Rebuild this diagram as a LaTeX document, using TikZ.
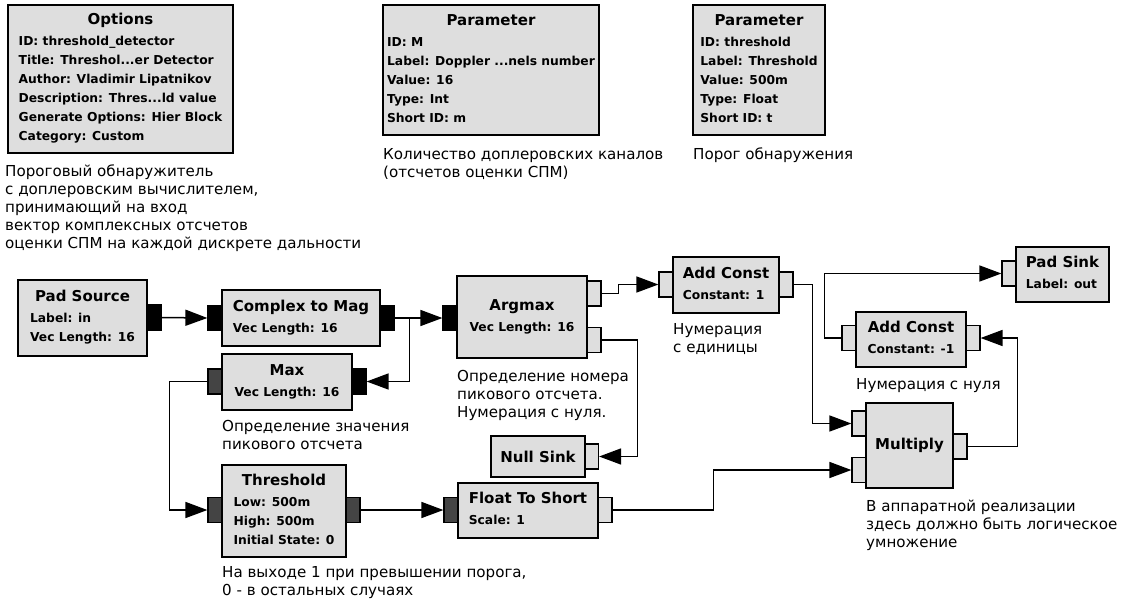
\documentclass[tikz,border=0pt]{standalone}
\usepackage{fontspec}
\setmainfont{DejaVu Sans}
\usetikzlibrary{arrows.meta}
\definecolor{blkfill}{HTML}{DEDEDE}
\definecolor{portdark}{HTML}{444444}
\tikzset{
 blk/.style={draw, line width=1.6pt, fill=blkfill, inner sep=0pt, font=\fontsize{12.3}{19}\selectfont\bfseries},
 pblk/.style={draw, line width=1.2pt, inner sep=0pt, minimum width=14pt, minimum height=25pt},
 pvec/.style={pblk, fill=black},
 pflt/.style={pblk, fill=portdark},
 pint/.style={pblk, fill=blkfill},
 conn/.style={line width=1.5pt, -{Triangle[length=22pt,width=16pt]}},
 cmt/.style={anchor=north west, inner sep=0pt, align=left, font=\fontsize{15.1}{17.8}\selectfont},
}
\newcommand{\bk}[2]{\begin{tabular}{@{}l@{}}\multicolumn{1}{@{}c@{}}{\fontsize{15}{19}\selectfont #1}\\[2pt] #2\end{tabular}}
\newcommand{\bko}[1]{{\fontsize{15}{19}\selectfont #1}}
\begin{document}
\begin{tikzpicture}[x=1pt,y=-1pt]
\useasboundingbox (0,0) rectangle (1122,600);
\fill[white] (0,0) rectangle (1122,600);

% parameter / option blocks
\node[blk, minimum width=225pt, minimum height=148pt] (opt) at (120.5,79) {\bk{Options}{ID: threshold\_detector\\Title: Threshol...er Detector\\Author: Vladimir Lipatnikov\\Description: Thres...ld value\\Generate Options: Hier Block\\Category: Custom}};
\node[blk, minimum width=216pt, minimum height=130pt] (par1) at (491,70) {\bk{Parameter}{ID: M\\Label: Doppler ...nels number\\Value: 16\\Type: Int\\Short ID: m}};
\node[blk, minimum width=132pt, minimum height=130pt] (par2) at (759,70) {\bk{Parameter}{ID: threshold\\Label: Threshold\\Value: 500m\\Type: Float\\Short ID: t}};

% ports
\node[pvec] (ps-o) at (154,317.5) {};
\node[pvec] (ctm-i) at (215,318) {};
\node[pvec] (ctm-o) at (387,318) {};
\node[pvec] (max-i) at (359,381.5) {};
\node[pflt] (max-o) at (215,381.5) {};
\node[pflt] (thr-i) at (215,510) {};
\node[pflt] (thr-o) at (353,510) {};
\node[pvec] (arg-i) at (450,318) {};
\node[pint] (arg-o0) at (594,293.5) {};
\node[pint] (arg-o1) at (594,340) {};
\node[pint] (ac1-i) at (666,284.5) {};
\node[pint] (ac1-o) at (786,284.5) {};
\node[pint] (null-i) at (591.5,456.5) {};
\node[pflt] (fts-i) at (451,510) {};
\node[pint] (fts-o) at (605,510) {};
\node[pint] (psk-i) at (1009,273.5) {};
\node[pint] (ac2-o) at (849,338) {};
\node[pint] (ac2-i) at (973,338) {};
\node[pint] (mul-i0) at (859,423.5) {};
\node[pint] (mul-i1) at (859,470) {};
\node[pint] (mul-o) at (960,446.5) {};

% flow blocks
\node[blk, minimum width=129pt, minimum height=76pt] (ps) at (82.5,318) {\bk{Pad Source}{Label: in\\Vec Length: 16}};
\node[blk, minimum width=158pt, minimum height=56pt] (ctm) at (301,318) {\bk{Complex to Mag}{Vec Length: 16}};
\node[blk, minimum width=130pt, minimum height=56pt] (max) at (287,382) {\bk{Max}{Vec Length: 16}};
\node[blk, minimum width=124pt, minimum height=92pt] (thr) at (284,511) {\bk{Threshold}{Low: 500m\\High: 500m\\Initial State: 0}};
\node[blk, minimum width=130pt, minimum height=82pt] (arg) at (522,317) {\bk{Argmax}{Vec Length: 16}};
\node[blk, minimum width=106pt, minimum height=56pt] (ac1) at (726,285) {\bk{Add Const}{Constant: 1}};
\node[blk, minimum width=94pt, minimum height=41pt] (null) at (538,456.5) {\bko{Null Sink}};
\node[blk, minimum width=140pt, minimum height=55pt] (fts) at (528,510.5) {\bk{Float To Short}{Scale: 1}};
\node[blk, minimum width=93pt, minimum height=55pt] (psk) at (1062.5,274.5) {\bk{Pad Sink}{Label: out}};
\node[blk, minimum width=110pt, minimum height=55pt] (ac2) at (911,339.5) {\bk{Add Const}{Constant: -1}};
\node[blk, minimum width=87pt, minimum height=85pt] (mul) at (909.5,445.5) {\bko{Multiply}};

% connections
\draw[conn] (ps-o.east) -- (ctm-i.west);
\draw[conn] (ctm-o.east) -- (arg-i.west);
\draw[conn] (ctm-o.east) -- ++(15,0) |- (max-i.east);
\draw[conn] (max-o.west) -- ++(-38,0) |- (thr-i.west);
\draw[conn] (thr-o.east) -- (fts-i.west);
\draw[conn] (arg-o0.east) -- ++(17,0) |- (ac1-i.west);
\draw[conn] (arg-o1.east) -- ++(36,0) |- (null-i.east);
\draw[conn] (ac1-o.east) -- ++(19,0) |- (mul-i0.west);
\draw[conn] (fts-o.east) -- ++(101,0) |- (mul-i1.west);
\draw[conn] (mul-o.east) -- ++(50,0) |- (ac2-i.east);
\draw[conn] (ac2-o.west) -- ++(-17,0) |- (psk-i.west);

% comments
\node[cmt] (c-opt) at (5,165) {Пороговый обнаружитель\\с доплеровским вычислителем,\\принимающий на вход\\вектор комплексных отсчетов\\оценки СПМ на каждой дискрете дальности};
\node[cmt] (c-par1) at (383,148) {Количество доплеровских каналов\\(отсчетов оценки СПМ)};
\node[cmt] (c-par2) at (693,148) {Порог обнаружения};
\node[cmt] (c-max) at (222,420) {Определение значения\\пикового отсчета};
\node[cmt] (c-thr) at (222,566) {На выходе 1 при превышении порога,\\0 - в остальных случаях};
\node[cmt] (c-arg) at (457,370) {Определение номера\\пикового отсчета.\\Нумерация с нуля.};
\node[cmt] (c-ac1) at (673,323) {Нумерация\\с единицы};
\node[cmt] (c-ac2) at (856,378) {Нумерация с нуля};
\node[cmt] (c-mul) at (866,500) {В аппаратной реализации\\здесь должно быть логическое\\умножение};
\end{tikzpicture}
\end{document}
